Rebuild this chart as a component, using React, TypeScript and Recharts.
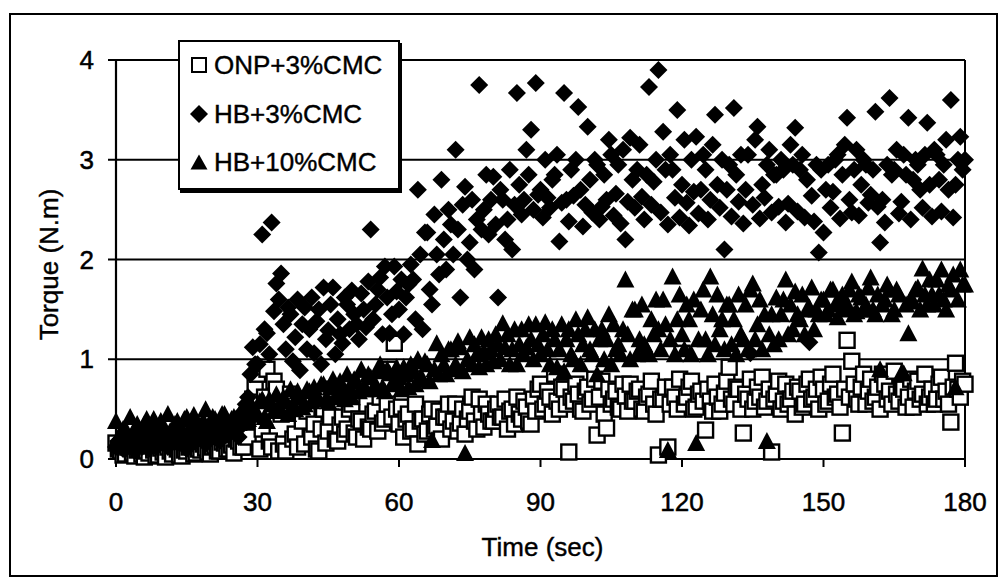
import React from "react";
import {
  ScatterChart,
  Scatter,
  XAxis,
  YAxis,
  CartesianGrid,
  ReferenceLine,
} from "recharts";

// readings every 0.5 s, 0..180 s
const timeSec = Array.from({ length: 361 }, (_, i) => i / 2);

// each line = 5 seconds
const onp3 = [
  0.16, 0.1, 0.08, 0.04, 0.05, 0.12, 0.12, 0.06, 0.03, 0.09,
  0.1, 0.05, 0.02, 0.08, 0.06, 0.13, 0.09, 0.03, 0.04, 0.11,
  0.07, 0.02, 0.12, 0.08, 0.05, 0.14, 0.1, 0.04, 0.03, 0.09,
  0.08, 0.12, 0.14, 0.05, 0.06, 0.1, 0.09, 0.15, 0.11, 0.07,
  0.05, 0.12, 0.13, 0.08, 0.08, 0.17, 0.16, 0.1, 0.1, 0.14,
  0.06, 0.2, 0.18, 0.12, 0.12, 0.25, 0.22, 0.48, 0.6, 0.72,
  0.85, 0.1, 0.3, 0.62, 0.9, 0.18, 0.12, 0.78, 0.7, 0.08,
  0.45, 0.15, 0.08, 0.55, 0.65, 0.2, 0.25, 0.12, 0.55, 0.38,
  0.15, 0.48, 0.6, 0.22, 0.35, 0.1, 0.08, 0.3, 0.5, 0.16,
  0.28, 0.42, 0.7, 0.2, 0.18, 0.34, 0.42, 0.25, 0.3, 0.5,
  0.55, 0.26, 0.22, 0.4, 0.38, 0.2, 0.75, 0.32, 0.3, 0.45,
  0.48, 0.28, 0.62, 0.36, 0.4, 0.55, 0.9, 0.42, 1.16, 0.5,
  0.35, 0.52, 0.22, 0.4, 0.45, 0.28, 0.3, 0.55, 0.15, 0.38,
  0.4, 0.25, 0.28, 0.45, 0.5, 0.3, 0.33, 0.48, 0.2, 0.42,
  0.42, 0.55, 0.3, 0.38, 0.55, 0.28, 0.36, 0.5, 0.25, 0.4,
  0.48, 0.62, 0.38, 0.3, 0.6, 0.45, 0.32, 0.55, 0.45, 0.38,
  0.38, 0.5, 0.55, 0.42, 0.42, 0.6, 0.3, 0.48, 0.5, 0.35,
  0.62, 0.45, 0.4, 0.58, 0.52, 0.38, 0.35, 0.6, 0.48, 0.7,
  0.75, 0.5, 0.55, 0.68, 0.62, 0.45, 0.85, 0.58, 0.5, 0.72,
  0.7, 0.55, 0.07, 0.62, 0.58, 0.75, 0.65, 0.5, 0.48, 0.68,
  0.72, 0.55, 0.6, 0.8, 0.24, 0.62, 0.78, 0.45, 0.31, 0.7,
  0.55, 0.6, 0.68, 0.52, 0.5, 0.75, 0.63, 0.48, 0.75, 0.58,
  0.58, 0.68, 0.7, 0.5, 0.48, 0.62, 0.65, 0.78, 0.55, 0.45,
  0.04, 0.6, 0.6, 0.72, 0.12, 0.55, 0.72, 0.62, 0.5, 0.8,
  1.06, 0.55, 0.62, 0.72, 0.78, 0.5, 0.52, 0.65, 0.68, 0.58,
  0.29, 0.7, 0.58, 0.48, 0.75, 0.62, 0.48, 0.55, 0.66, 0.78,
  0.92, 0.6, 0.55, 0.72, 0.7, 0.5, 0.26, 0.65, 0.6, 0.8,
  0.5, 0.58, 0.72, 0.62, 0.82, 0.52, 0.58, 0.7, 0.07, 0.6,
  0.65, 0.78, 0.5, 0.58, 0.75, 0.55, 0.6, 0.68, 0.45, 0.72,
  0.68, 0.52, 0.55, 0.75, 0.8, 0.6, 0.62, 0.7, 0.5, 0.82,
  0.7, 0.55, 0.58, 0.75, 0.85, 0.62, 0.65, 0.52, 0.26, 0.7,
  1.19, 0.62, 0.98, 0.75, 0.6, 0.55, 0.72, 0.85, 0.55, 0.68,
  0.8, 0.58, 0.62, 0.72, 0.5, 0.85, 0.75, 0.6, 0.68, 0.55,
  0.88, 0.65, 0.58, 0.72, 0.7, 0.52, 0.62, 0.8, 0.52, 0.68,
  0.78, 0.6, 0.65, 0.85, 0.55, 0.62, 0.7, 0.55, 0.6, 0.75,
  0.82, 0.6, 0.68, 0.55, 0.37, 0.72, 0.96, 0.7, 0.62, 0.78,
  0.75,
];

const hb3 = [
  0.12, 0.18, 0.2, 0.1, 0.1, 0.16, 0.18, 0.22, 0.08, 0.15,
  0.22, 0.12, 0.15, 0.24, 0.1, 0.18, 0.2, 0.12, 0.14, 0.22,
  0.18, 0.26, 0.12, 0.15, 0.25, 0.2, 0.16, 0.28, 0.2, 0.14,
  0.1, 0.24, 0.22, 0.18, 0.18, 0.3, 0.26, 0.2, 0.15, 0.28,
  0.22, 0.3, 0.28, 0.2, 0.18, 0.32, 0.3, 0.24, 0.25, 0.36,
  0.32, 0.28, 0.22, 0.45, 0.4, 0.55, 0.62, 0.85, 1.12, 0.95,
  0.95, 1.15, 2.25, 1.3, 1.26, 1.05, 2.37, 1.48, 1.76, 1.6,
  1.86, 1.35, 1.1, 1.52, 1.45, 0.98, 1.22, 1.6, 0.89, 1.35,
  1.52, 1.1, 1.3, 1.62, 1.06, 1.38, 1.5, 0.95, 1.72, 1.2,
  1.29, 1.55, 1.72, 1.05, 1.4, 1.25, 1.16, 1.62, 1.55, 1.3,
  1.69, 1.45, 1.35, 1.2, 1.66, 1.5, 1.32, 1.78, 2.3, 1.4,
  1.55, 1.7, 1.82, 1.25, 1.93, 1.62, 1.26, 1.45, 1.93, 1.68,
  1.5, 1.8, 1.25, 1.62, 1.75, 1.95, 1.8, 1.4, 2.7, 2.05,
  1.3, 2.27, 2.27, 1.7, 1.55, 2.45, 2.05, 1.85, 2.8, 2.2,
  1.9, 2.5, 2.35, 2.05, 3.1, 2.3, 1.62, 2.55, 2.73, 2.0,
  2.17, 2.6, 1.9, 2.4, 3.75, 2.3, 2.5, 2.85, 2.25, 2.6,
  2.83, 2.35, 1.62, 2.7, 2.6, 2.2, 2.4, 2.9, 2.1, 2.55,
  3.67, 2.75, 2.45, 2.6, 3.1, 2.85, 3.3, 2.5, 3.77, 2.65,
  2.7, 2.42, 3.0, 2.62, 2.52, 2.8, 2.85, 3.05, 2.18, 2.57,
  3.67, 2.6, 2.38, 2.9, 2.64, 3.0, 3.53, 2.7, 2.33, 2.55,
  3.33, 2.8, 2.47, 3.0, 2.95, 2.4, 2.53, 2.85, 2.6, 3.2,
  3.05, 2.44, 2.66, 2.95, 2.36, 3.1, 2.2, 2.58, 3.22, 2.8,
  2.52, 2.9, 3.15, 2.63, 2.4, 2.85, 3.73, 2.55, 2.78, 3.0,
  3.9, 2.47, 3.28, 2.9, 2.35, 3.05, 2.9, 2.62, 3.5, 2.42,
  2.75, 3.2, 2.57, 2.34, 3.0, 2.68, 3.23, 2.46, 2.7, 3.05,
  2.9, 2.4, 2.6, 3.15, 3.45, 2.75, 2.52, 3.0, 2.1, 2.7,
  2.95, 2.43, 3.52, 2.85, 2.58, 3.05, 2.36, 2.7, 3.05, 1.06,
  2.55, 3.2, 3.33, 2.41, 2.75, 2.62, 2.95, 3.1, 2.47, 2.85,
  2.85, 2.53, 3.0, 2.9, 2.37, 2.56, 3.15, 2.95, 3.32, 2.48,
  2.9, 3.05, 2.42, 2.8, 1.17, 2.64, 2.38, 2.95, 2.07, 2.9,
  2.27, 2.7, 2.95, 2.52, 2.68, 3.0, 3.05, 2.41, 2.85, 3.15,
  3.42, 2.6, 2.47, 2.9, 3.1, 2.44, 2.75, 3.0, 2.95, 2.57,
  2.65, 2.9, 3.48, 2.53, 2.17, 2.6, 2.37, 2.95, 3.62, 2.85,
  2.9, 3.1, 2.46, 2.58, 3.05, 2.85, 3.42, 2.4, 2.8, 3.0,
  2.95, 2.7, 2.52, 3.05, 3.37, 2.75, 2.43, 3.1, 3.05, 2.8,
  2.48, 2.95, 3.2, 2.7, 3.6, 2.42, 2.75, 3.0, 3.23, 2.9,
  3.0,
];

const hb10 = [
  0.38, 0.22, 0.2, 0.3, 0.3, 0.15, 0.42, 0.25, 0.15, 0.35,
  0.28, 0.2, 0.35, 0.4, 0.18, 0.3, 0.4, 0.22, 0.25, 0.38,
  0.32, 0.2, 0.45, 0.28, 0.2, 0.35, 0.38, 0.25, 0.28, 0.4,
  0.42, 0.3, 0.22, 0.44, 0.35, 0.28, 0.3, 0.38, 0.5, 0.32,
  0.26, 0.42, 0.4, 0.3, 0.33, 0.45, 0.45, 0.35, 0.3, 0.4,
  0.42, 0.3, 0.36, 0.48, 0.48, 0.38, 0.4, 0.55, 0.52, 0.45,
  0.45, 0.58, 0.6, 0.42, 0.38, 0.6, 0.55, 0.48, 0.65, 0.52,
  0.48, 0.62, 0.58, 0.45, 0.7, 0.55, 0.5, 0.68, 0.62, 0.52,
  0.55, 0.7, 0.68, 0.58, 0.72, 0.62, 0.6, 0.75, 0.75, 0.6,
  0.58, 0.72, 0.8, 0.62, 0.66, 0.78, 0.7, 0.6, 0.85, 0.72,
  0.62, 0.8, 0.78, 0.68, 0.9, 0.72, 0.7, 0.85, 0.82, 0.7,
  0.75, 0.88, 0.95, 0.72, 0.68, 0.9, 0.86, 0.75, 0.78, 0.92,
  0.82, 0.7, 0.92, 0.85, 0.72, 0.95, 0.88, 0.75, 1.0, 0.82,
  0.8, 0.98, 0.95, 0.78, 0.19, 0.9, 1.16, 0.85, 1.05, 0.95,
  0.85, 1.1, 1.1, 0.9, 0.95, 1.18, 1.12, 0.88, 0.06, 1.0,
  1.22, 0.95, 1.15, 1.05, 0.92, 1.22, 1.08, 0.95, 1.2, 1.1,
  0.98, 1.25, 1.15, 1.0, 1.36, 1.12, 1.25, 0.95, 1.1, 1.3,
  0.95, 1.15, 1.3, 1.05, 1.12, 1.35, 1.2, 1.0, 1.35, 1.15,
  1.05, 1.25, 1.37, 1.1, 0.95, 1.3, 1.2, 0.92, 1.1, 1.35,
  0.88, 1.2, 1.3, 1.05, 1.0, 1.4, 1.25, 0.95, 1.15, 1.3,
  1.42, 1.1, 1.05, 1.3, 0.85, 1.2, 1.3, 1.0, 1.2, 1.45,
  0.95, 1.35, 1.1, 1.15, 1.05, 1.3, 1.8, 1.25, 1.0, 1.5,
  1.5, 1.05, 1.2, 1.55, 1.15, 1.1, 1.05, 1.4, 1.25, 1.6,
  1.3, 1.1, 1.6, 1.35, 0.09, 1.2, 1.83, 1.05, 1.4, 1.65,
  1.25, 1.1, 1.55, 1.4, 1.05, 1.6, 0.16, 1.2, 1.5, 1.7,
  1.2, 1.05, 1.83, 1.45, 1.15, 1.65, 1.3, 1.4, 1.1, 1.55,
  1.55, 1.15, 1.4, 1.05, 1.65, 1.25, 1.2, 1.55, 1.1, 1.7,
  1.76, 1.2, 1.35, 1.6, 1.1, 1.45, 0.18, 1.25, 1.45, 1.15,
  1.62, 1.2, 1.45, 1.6, 1.8, 1.25, 1.55, 1.3, 1.68, 1.45,
  1.4, 1.65, 1.25, 1.5, 1.52, 1.72, 1.3, 1.5, 1.45, 1.6,
  1.6, 1.45, 1.5, 1.7, 1.7, 1.55, 1.42, 1.6, 1.65, 1.5,
  1.55, 1.7, 1.78, 1.45, 1.48, 1.65, 1.62, 1.5, 1.55, 1.72,
  1.82, 1.5, 1.45, 1.65, 0.9, 1.55, 1.6, 1.75, 1.7, 1.45,
  1.5, 1.7, 1.65, 0.86, 0.86, 1.55, 1.26, 1.6, 1.58, 1.7,
  1.72, 1.5, 1.91, 1.65, 1.55, 1.8, 1.65, 1.55, 1.8, 1.65,
  1.9, 1.6, 1.5, 1.75, 1.7, 1.85, 0.72, 1.6, 1.9, 1.75,
  1.75,
];

const xTicks = [0, 30, 60, 90, 120, 150, 180];
const yTicks = [0, 1, 2, 3, 4];

const toPoints = (ys: number[]) => ys.map((v, i) => ({ t: timeSec[i], v }));

const FONT = '"Liberation Sans", Arial, Helvetica, sans-serif';
const tickStyle = { fill: "#000", fontSize: 26, stroke: "#000", strokeWidth: 0.5 };

const SquareMark = (p: any) => (
  <rect x={p.cx - 7.5} y={p.cy - 7.5} width={15} height={15} fill="#fff" stroke="#000" strokeWidth={2.4} />
);
const DiamondMark = (p: any) => (
  <path d={`M${p.cx},${p.cy - 9}L${p.cx + 9},${p.cy}L${p.cx},${p.cy + 9}L${p.cx - 9},${p.cy}Z`} fill="#000" />
);
const TriangleMark = (p: any) => (
  <path d={`M${p.cx},${p.cy - 9}L${p.cx + 9},${p.cy + 8}L${p.cx - 9},${p.cy + 8}Z`} fill="#000" />
);

const legendRows = [
  { name: "ONP+3%CMC", icon: <rect x={3} y={3} width={14} height={14} fill="#fff" stroke="#000" strokeWidth={2} /> },
  { name: "HB+3%CMC", icon: <path d="M10,1L19,10L10,19L1,10Z" fill="#000" /> },
  { name: "HB+10%CMC", icon: <path d="M10,2.5L18.5,17.5L1.5,17.5Z" fill="#000" /> },
];

export default function App() {
  return (
    <div style={{ position: "absolute", left: 0, top: 0, width: 1000, height: 579, background: "#fff", fontFamily: FONT }}>
      <div style={{ position: "absolute", left: 9, top: 13, width: 985, height: 560, border: "2.5px solid #000" }} />
      <div style={{ position: "absolute", left: 0, top: 0 }}>
        <ScatterChart width={1000} height={579} margin={{ top: 60, right: 35, bottom: 0, left: 0 }} style={{ fontFamily: FONT }}>
          <CartesianGrid horizontal vertical={false} stroke="#000" strokeWidth={1.8} />
          <XAxis
            dataKey="t"
            type="number"
            domain={[0, 180]}
            ticks={xTicks}
            interval={0}
            height={120}
            tickSize={8}
            tickMargin={26}
            axisLine={{ stroke: "#000", strokeWidth: 2.2 }}
            tickLine={{ stroke: "#000", strokeWidth: 2 }}
            tick={tickStyle}
            label={{
              content: (props: any) => {
                const vb = props.viewBox;
                return (
                  <text x={vb.x + vb.width / 2 + 2} y={556} textAnchor="middle" fontSize={26} fill="#000" stroke="#000" strokeWidth={0.4}>
                    Time (sec)
                  </text>
                );
              },
            }}
          />
          <YAxis
            dataKey="v"
            type="number"
            domain={[0, 4]}
            ticks={yTicks}
            interval={0}
            width={116}
            tickSize={8}
            tickMargin={14}
            axisLine={{ stroke: "#000", strokeWidth: 2.2 }}
            tickLine={{ stroke: "#000", strokeWidth: 2 }}
            tick={tickStyle}
            label={{
              content: (props: any) => {
                const vb = props.viewBox;
                const cy = vb.y + vb.height / 2 + 5;
                return (
                  <text x={58} y={cy} textAnchor="middle" fontSize={26} fill="#000" stroke="#000" strokeWidth={0.4} transform={`rotate(-90, 58, ${cy})`}>
                    Torque (N.m)
                  </text>
                );
              },
            }}
          />
          <ReferenceLine x={180} stroke="#000" strokeWidth={2} />
          <Scatter name="ONP+3%CMC" data={toPoints(onp3)} shape={SquareMark} isAnimationActive={false} />
          <Scatter name="HB+3%CMC" data={toPoints(hb3)} shape={DiamondMark} isAnimationActive={false} />
          <Scatter name="HB+10%CMC" data={toPoints(hb10)} shape={TriangleMark} isAnimationActive={false} />
        </ScatterChart>
      </div>
      <div
        style={{
          position: "absolute",
          left: 178,
          top: 40,
          width: 218,
          height: 146,
          border: "2px solid #000",
          boxShadow: "2px 3px 0 #000",
          background: "#fff",
        }}
      >
        {legendRows.map((r, i) => (
          <div
            key={r.name}
            style={{ position: "absolute", left: 9, top: 8 + i * 48.5, height: 30, display: "flex", alignItems: "center", whiteSpace: "nowrap" }}
          >
            <svg width={20} height={20} style={{ marginRight: 5 }}>
              {r.icon}
            </svg>
            <span style={{ fontSize: 26, lineHeight: "30px", color: "#000", WebkitTextStroke: "0.4px #000" }}>{r.name}</span>
          </div>
        ))}
      </div>
    </div>
  );
}
